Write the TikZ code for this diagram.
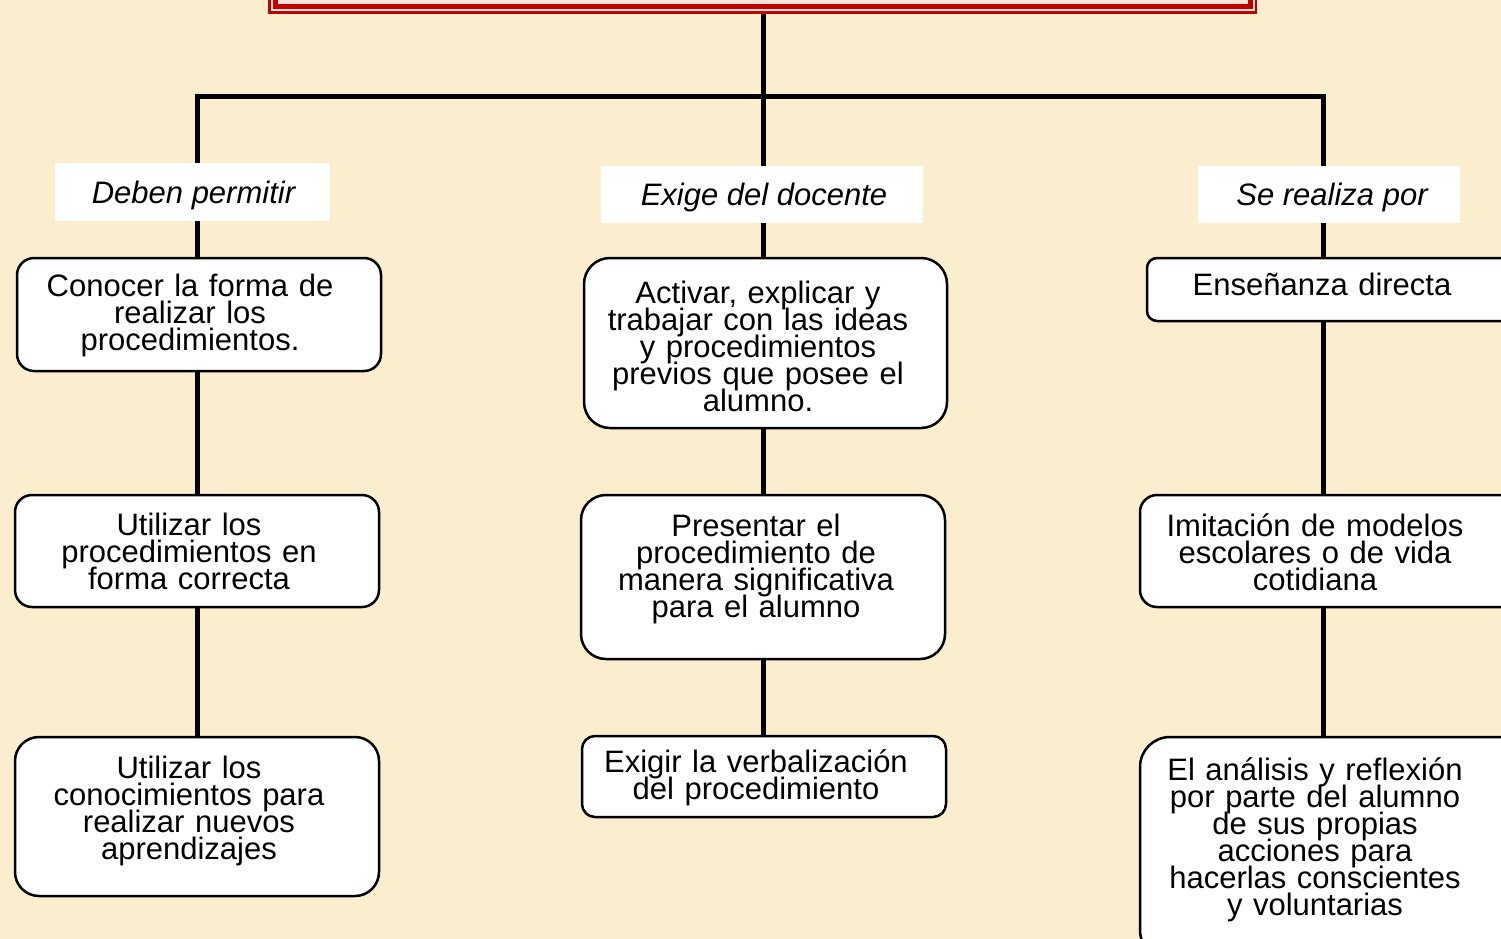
\documentclass[tikz,border=0pt]{standalone}
\usepackage{fontspec}
\setmainfont{Liberation Sans}
\usetikzlibrary{positioning}
\definecolor{parch}{RGB}{251,238,206}
\definecolor{framered}{RGB}{192,0,0}
\definecolor{framelight}{RGB}{251,226,214}
\pgfdeclarelayer{bg}
\pgfdeclarelayer{lines}
\pgfsetlayers{bg,lines,main}
\newcommand{\boxfont}{\fontsize{31}{27}\selectfont\lineskiplimit=-40pt\lineskip=0pt\spaceskip=0.34em plus 0.1em minus 0.05em\relax}
\tikzset{
  box/.style={draw=black, line width=2.5pt, fill=white, inner sep=0pt},
  lab/.style={fill=white, inner sep=0pt},
  txt/.style={inner sep=0pt, align=center, font=\boxfont},
  itxt/.style={inner sep=0pt, font=\fontsize{31}{27}\selectfont\itshape},
  conn/.style={draw=black, line width=5pt}
}
\begin{document}
\begin{tikzpicture}[x=1pt,y=-1pt]
\begin{pgfonlayer}{bg}
\fill[parch] (0,0) rectangle (1501,939);
\end{pgfonlayer}
\useasboundingbox (0,0) rectangle (1501,939);
% title frame
\node[fill=framered, minimum width=989pt, minimum height=40pt, inner sep=0pt] (title) at (762.5,-6) {};
\fill[framelight] (270.5,-30) rectangle (1254.5,11.5);
\fill[framered] (272.5,-30) rectangle (1252.5,9.5);
\fill[framelight] (277.5,-30) rectangle (1247.5,4.5);
% junctions
\coordinate (jL) at (197,97);
\coordinate (jM) at (763,97);
\coordinate (jR) at (1323,97);
% labels
\node[lab, minimum width=275pt, minimum height=58pt] (labL) at (192.5,192) {};
\node[itxt] (labLt) at (193.5,195.5) {Deben permitir};
\node[lab, minimum width=322pt, minimum height=57pt] (labM) at (762,194.5) {};
\node[itxt] (labMt) at (764,197.5) {Exige del docente};
\node[lab, minimum width=262pt, minimum height=57pt] (labR) at (1329,194.5) {};
\node[itxt] (labRt) at (1332,197.5) {Se realiza por};
% left column
\node[box, rounded corners=17pt, minimum width=364pt, minimum height=113pt] (L1) at (199,314.5) {};
\node[txt] (L1t) at (190,315.5) {Conocer la forma de\\realizar los\\procedimientos.};
\node[box, rounded corners=17pt, minimum width=364pt, minimum height=112pt] (L2) at (197,551) {};
\node[txt] (L2t) at (189,551.5) {Utilizar los\\procedimientos en\\forma correcta};
\node[box, rounded corners=24pt, minimum width=364pt, minimum height=159pt] (L3) at (197,816.5) {};
\node[txt] (L3t) at (189,810.5) {Utilizar los\\conocimientos para\\realizar nuevos\\aprendizajes};
% middle column
\node[box, rounded corners=26pt, minimum width=363pt, minimum height=170pt] (M1) at (765.5,343) {};
\node[txt] (M1t) at (758,346.5) {Activar, explicar y\\trabajar con las ideas\\y procedimientos\\previos que posee el\\alumno.};
\node[box, rounded corners=25pt, minimum width=364pt, minimum height=164pt] (M2) at (763,577) {};
\node[txt] (M2t) at (756,568.5) {Presentar el\\procedimiento de\\manera significativa\\para el alumno};
\node[box, rounded corners=13pt, minimum width=364pt, minimum height=81pt] (M3) at (764,776.5) {};
\node[txt] (M3t) at (756,777.5) {Exigir la verbalización\\del procedimiento};
% right column
\node[box, rounded corners=10pt, minimum width=383pt, minimum height=63pt] (R1) at (1338.5,289.5) {};
\node[txt] (R1t) at (1322,284.5) {Enseñanza directa};
\node[box, rounded corners=17pt, minimum width=390pt, minimum height=112pt] (R2) at (1335,551) {};
\node[txt] (R2t) at (1315,552) {Imitación de modelos\\escolares o de vida\\cotidiana};
\node[box, rounded corners=30pt, minimum width=390pt, minimum height=223pt] (R3) at (1335,848.5) {};
\node[txt] (R3t) at (1315,840) {El análisis y reflexión\\por parte del alumno\\de sus propias\\acciones para\\hacerlas conscientes\\y voluntarias};
% connectors
\begin{pgfonlayer}{lines}
\draw[conn] (title.south -| jM) -- (jM);
\draw[conn, line cap=rect] (jL) -- (jR);
\draw[conn] (jL) -- (jL |- L3.center);
\draw[conn] (jM) -- (jM |- M3.center);
\draw[conn] (jR) -- (jR |- R3.center);
\end{pgfonlayer}
\end{tikzpicture}
\end{document}
